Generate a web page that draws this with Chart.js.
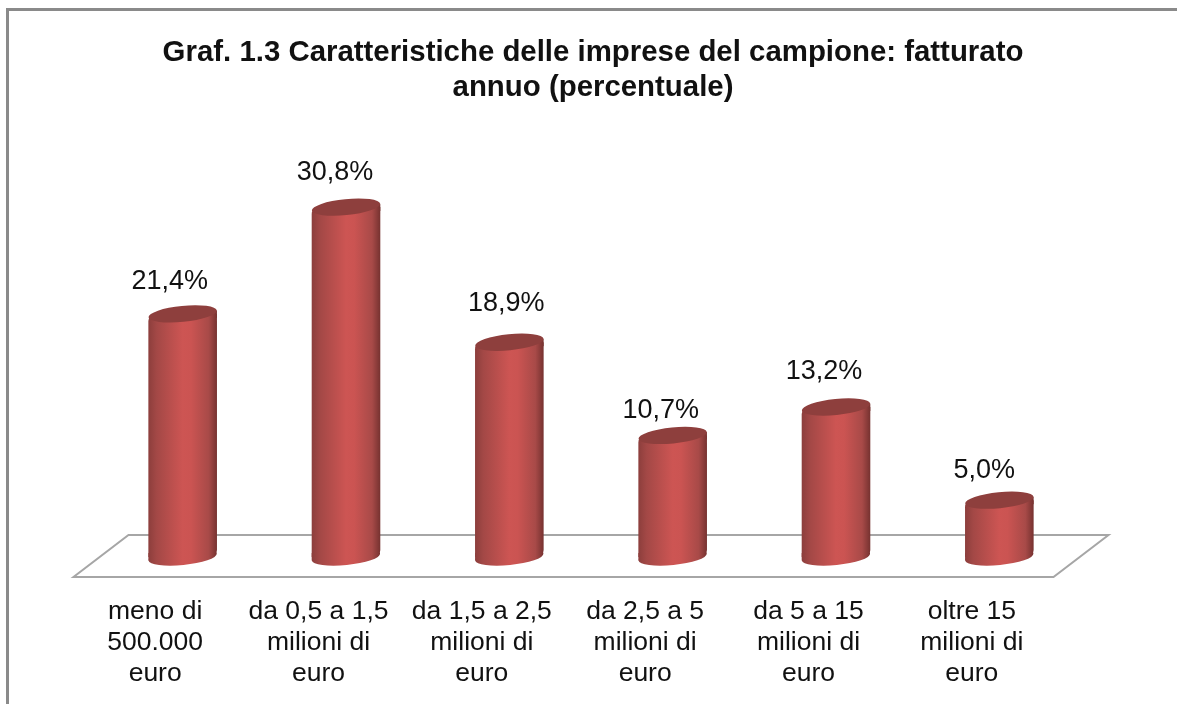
<!DOCTYPE html>
<html>
<head>
<meta charset="utf-8">
<style>
html,body{margin:0;padding:0;background:#fff;overflow:hidden}
canvas{display:block}
</style>
<script src="https://cdn.jsdelivr.net/npm/chart.js@4"></script>
</head>
<body>
<canvas id="c" width="1177" height="704"></canvas>
<script>
const categories = [
  ["meno di","500.000","euro"],
  ["da 0,5 a 1,5","milioni di","euro"],
  ["da 1,5 a 2,5","milioni di","euro"],
  ["da 2,5 a 5","milioni di","euro"],
  ["da 5 a 15","milioni di","euro"],
  ["oltre 15","milioni di","euro"]
];
const shares = [21.4, 30.8, 18.9, 10.7, 13.2, 5.0];
const titleLines = ["Graf. 1.3 Caratteristiche delle imprese del campione: fatturato","annuo (percentuale)"];

const FONT = '"Liberation Sans", Arial, sans-serif';
const DEPTH_X = 27.5, DEPTH_Y = 21;
// hand-placed value labels in the original: shift relative to each bar's top centre
const labelShiftX = [-13, -11, -3, -12, -12, -15];
const labelShiftY = [-32, -35, -39, -25, -35, -30];

function cylGradient(ctx, left, right){
  const g = ctx.createLinearGradient(left,0,right,0);
  g.addColorStop(0,'#8c3e3c');
  g.addColorStop(0.12,'#a34846');
  g.addColorStop(0.5,'#cd5553');
  g.addColorStop(0.62,'#cb5452');
  g.addColorStop(0.88,'#a84a48');
  g.addColorStop(1,'#763230');
  return g;
}

const decor = {
  id:'decor',
  afterLayout(chart){
    chart.titleBlock.left += 2; chart.titleBlock.right += 2;
  },
  beforeDraw(chart){
    const c = chart.ctx;
    c.save();
    c.strokeStyle='#8a8a8a'; c.lineWidth=3;
    c.beginPath();
    c.moveTo(7.5,704); c.lineTo(7.5,9.5); c.lineTo(1177,9.5);
    c.stroke();
    c.restore();
  },
  beforeDatasetsDraw(chart){
    const c = chart.ctx, a = chart.chartArea, y0 = chart.scales.y.getPixelForValue(0)-1;
    c.save();
    c.strokeStyle='#a6a6a6'; c.lineWidth=2; c.lineJoin='miter';
    c.beginPath();
    c.moveTo(a.left-DEPTH_X, y0+DEPTH_Y);
    c.lineTo(a.right-DEPTH_X, y0+DEPTH_Y);
    c.lineTo(a.right+DEPTH_X, y0-DEPTH_Y);
    c.lineTo(a.left+DEPTH_X, y0-DEPTH_Y);
    c.closePath();
    c.stroke();
    c.restore();
  },
  afterDatasetsDraw(chart){
    const c = chart.ctx, meta = chart.getDatasetMeta(0);
    meta.data.forEach((bar,i)=>{
      const p = bar.getProps(['x','y','base','width'],true);
      const rx = p.width/2, ry = 8, rot = -0.1, tilt = rx*Math.sin(-rot);
      const l = p.x-rx, r = p.x+rx;
      c.save();
      c.fillStyle = cylGradient(c,l,r);
      // rounded base of the cylinder
      c.beginPath();
      c.ellipse(p.x,p.base,rx,ry,rot,0,Math.PI*2);
      c.fill();
      c.beginPath();
      c.moveTo(l,p.base-4); c.lineTo(l,p.base+tilt); c.lineTo(p.x,p.base); c.closePath();
      c.fill();
      // right shoulder joining the wall to the tilted cap
      c.beginPath();
      c.moveTo(r,p.y-tilt); c.lineTo(r,p.y+4); c.lineTo(p.x,p.y); c.closePath();
      c.fill();
      // end cap
      c.fillStyle='#8e3f3d';
      c.beginPath();
      c.ellipse(p.x,p.y,rx,ry,rot,0,Math.PI*2);
      c.fill();
      // value label
      c.fillStyle='#111';
      c.font='27px '+FONT;
      c.textAlign='center';
      c.textBaseline='middle';
      c.fillText(shares[i].toFixed(1).replace('.',',')+'%', p.x+labelShiftX[i], p.y+labelShiftY[i]);
      c.restore();
    });
  }
};

new Chart(document.getElementById('c'),{
  type:'bar',
  data:{labels:categories,datasets:[{
    data:shares,
    borderWidth:0,
    borderSkipped:false,
    borderRadius:{topLeft:7,topRight:0,bottomLeft:0,bottomRight:7},
    backgroundColor(ctx){
      const el = ctx.element;
      const a = ctx.chart.chartArea;
      if(!a || !el) return '#c05050';
      const w = a.width/categories.length*0.42;
      const cx = ctx.chart.scales.x.getPixelForValue(ctx.dataIndex);
      return cylGradient(ctx.chart.ctx,cx-w/2,cx+w/2);
    },
    categoryPercentage:1,
    barPercentage:0.42
  }]},
  options:{
    responsive:false,
    animation:false,
    events:[],
    layout:{padding:{left:101,right:96,top:0,bottom:0}},
    plugins:{
      legend:{display:false},
      tooltip:{enabled:false},
      title:{
        display:true,
        text:titleLines,
        color:'#111',
        font:{family:FONT,size:29.4,weight:'bold',lineHeight:1.19},
        padding:{top:35,bottom:54.4}
      }
    },
    scales:{
      x:{
        grid:{display:false},
        border:{display:false},
        afterFit(s){s.height=147;},
        ticks:{
          color:'#111',
          font:{family:FONT,size:26.5,lineHeight:1.17},
          maxRotation:0,minRotation:0,autoSkip:false,
          labelOffset:-27.5,
          padding:31
        }
      },
      y:{
        display:false,
        min:0,
        max:35
      }
    }
  },
  plugins:[decor]
});
</script>
</body>
</html>
